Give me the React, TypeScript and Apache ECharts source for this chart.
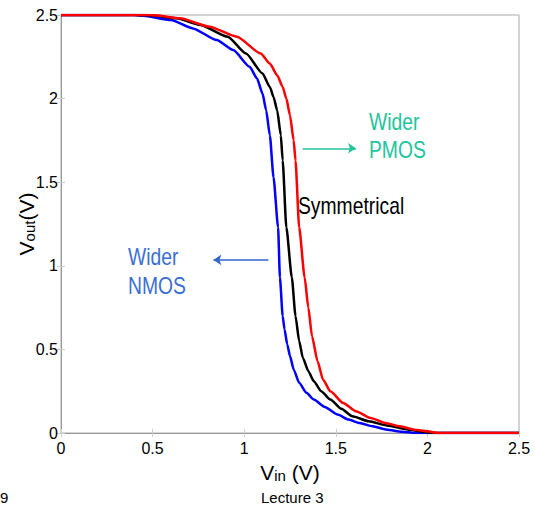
import React, { useEffect, useRef } from "react";
import * as echarts from "echarts";

// Vin (V) / Vout (V)
const vinNmos = [0, 0.4, 0.45, 0.6, 0.72, 0.85, 0.94, 1.03, 1.07, 1.1, 1.12, 1.14, 1.16, 1.185, 1.195, 1.21, 1.22, 1.235, 1.25, 1.27, 1.3, 1.34, 1.38, 1.44, 1.51, 1.57, 1.63, 1.7, 1.78, 1.86, 1.93, 2.5];
const voutNmos = [2.5, 2.5, 2.495, 2.47, 2.42, 2.35, 2.29, 2.19, 2.12, 2.03, 1.93, 1.78, 1.53, 1.23, 0.93, 0.7, 0.62, 0.53, 0.46, 0.38, 0.3, 0.24, 0.2, 0.155, 0.11, 0.08, 0.06, 0.04, 0.02, 0.008, 0, 0];

const vinSym = [0, 0.45, 0.5, 0.63, 0.76, 0.91, 1.01, 1.1, 1.14, 1.16, 1.18, 1.2, 1.21, 1.23, 1.26, 1.28, 1.3, 1.32, 1.35, 1.38, 1.42, 1.47, 1.53, 1.59, 1.68, 1.78, 1.9, 2.0, 2.05, 2.5];
const voutSym = [2.5, 2.5, 2.497, 2.48, 2.44, 2.37, 2.27, 2.15, 2.07, 2.01, 1.93, 1.78, 1.63, 1.23, 0.93, 0.7, 0.55, 0.45, 0.37, 0.31, 0.25, 0.2, 0.145, 0.1, 0.07, 0.045, 0.02, 0.003, 0, 0];

const vinPmos = [0, 0.48, 0.52, 0.65, 0.81, 0.96, 1.09, 1.14, 1.18, 1.21, 1.23, 1.25, 1.27, 1.28, 1.3, 1.33, 1.35, 1.37, 1.4, 1.43, 1.47, 1.54, 1.61, 1.69, 1.77, 1.85, 1.93, 2.0, 2.06, 2.5];
const voutPmos = [2.5, 2.5, 2.497, 2.48, 2.43, 2.37, 2.27, 2.21, 2.14, 2.07, 2.0, 1.9, 1.75, 1.63, 1.23, 0.93, 0.75, 0.58, 0.43, 0.32, 0.25, 0.18, 0.13, 0.09, 0.06, 0.04, 0.02, 0.01, 0, 0];

// annotation arrows [vinStart, vinEnd, vout]
const pmosArrow = [1.319, 1.61, 1.703];
const nmosArrow = [1.132, 0.832, 1.035];

const xTicks = [0, 0.5, 1, 1.5, 2, 2.5];

const pairs = (xs: number[], ys: number[]) => xs.map((x, i) => [x, ys[i]]);

const TEAL = "#22c49c";
const BLUETXT = "#3b6fd4";
const SANS = "'Liberation Sans', Arial, sans-serif";
const NARROW_SCALE = 0.84;

export default function App() {
  const ref = useRef<HTMLDivElement>(null);
  useEffect(() => {
    if (!ref.current) return;
    const chart = echarts.init(ref.current, undefined, { renderer: "svg" });
    const axisCommon = {
      type: "value" as const,
      min: 0,
      max: 2.5,
      interval: 0.5,
      splitLine: { show: false },
      axisLine: { show: true, lineStyle: { color: "#999", width: 1 } },
      axisTick: { show: true, inside: true, length: 4, lineStyle: { color: "#ccc" } },
    };
    const titleRich = {
      a: { fontSize: 21, fontFamily: SANS, color: "#000", lineHeight: 22 },
      b: { fontSize: 15, fontFamily: SANS, color: "#000", lineHeight: 4, verticalAlign: "bottom" as const },
    };
    const curve = (name: string, xs: number[], ys: number[], color: string) => ({
      type: "line" as const,
      name,
      data: pairs(xs, ys),
      showSymbol: false,
      smooth: 0.2,
      smoothMonotone: "x" as const,
      lineStyle: { color, width: 2.5 },
    });
    chart.setOption({
      animation: false,
      backgroundColor: "#fff",
      grid: { left: 61, right: 16, top: 15, bottom: 79, show: false, outerBoundsMode: "none", containLabel: false },
      xAxis: [
        {
          ...axisCommon,
          position: "bottom",
          axisLabel: {
            color: "#000",
            fontSize: 16,
            fontFamily: SANS,
            margin: 7,
            formatter: (v: number) => (xTicks.includes(v) ? String(v) : ""),
          },
          name: "{a|V}{b|in}{a| (V)}",
          nameLocation: "middle",
          nameGap: 28,
          nameTextStyle: { rich: titleRich },
        },
        { ...axisCommon, position: "top", axisLabel: { show: false } },
      ],
      yAxis: [
        {
          ...axisCommon,
          position: "left",
          axisLine: { show: true, lineStyle: { color: "#888", width: 1 } },
          axisLabel: { color: "#000", fontSize: 16, fontFamily: SANS, margin: 3 },
          name: "{a|V}{b|out}{a|(V)}",
          nameLocation: "middle",
          nameRotate: 90,
          nameGap: 24,
          nameMoveOverlap: false,
          nameTextStyle: { rich: titleRich },
        },
        { ...axisCommon, position: "right", axisLabel: { show: false } },
      ],
      series: [
        {
          ...curve("Wider NMOS", vinNmos, voutNmos, "#0000ff"),
          markLine: {
            silent: true,
            symbol: ["none", "arrow"],
            symbolSize: 8,
            label: { show: false },
            lineStyle: { type: "solid", width: 1.5 },
            data: [
              [
                { coord: [pmosArrow[0], pmosArrow[2]], lineStyle: { color: TEAL, type: "solid", width: 1.5 } },
                { coord: [pmosArrow[1], pmosArrow[2]] },
              ],
              [
                { coord: [nmosArrow[0], nmosArrow[2]], lineStyle: { color: "#3366cc", type: "solid", width: 1.5 } },
                { coord: [nmosArrow[1], nmosArrow[2]] },
              ],
            ],
          },
        },
        curve("Symmetrical", vinSym, voutSym, "#000000"),
        curve("Wider PMOS", vinPmos, voutPmos, "#ff0000"),
      ],
      graphic: [
        {
          type: "text",
          x: 369,
          y: 108,
          scaleX: NARROW_SCALE,
          style: { text: "Wider\nPMOS", fill: TEAL, font: `23px ${SANS}`, lineHeight: 28 },
        },
        {
          type: "text",
          x: 128,
          y: 242,
          scaleX: NARROW_SCALE,
          style: { text: "Wider\nNMOS", fill: BLUETXT, font: `23px ${SANS}`, lineHeight: 29 },
        },
        {
          type: "text",
          x: 298,
          y: 194,
          scaleX: NARROW_SCALE,
          style: { text: "Symmetrical", fill: "#000", font: `23px ${SANS}` },
        },
        {
          type: "text",
          left: 0,
          top: 490,
          style: { text: "9", fill: "#000", font: `15px ${SANS}` },
        },
        {
          type: "text",
          left: 261,
          top: 490,
          style: { text: "Lecture 3", fill: "#000", font: `15px ${SANS}` },
        },
        {
          type: "rect",
          shape: { x: 61, y: 15, width: 458, height: 418 },
          style: { fill: "none", stroke: "#aaa", lineWidth: 1 },
          silent: true,
          z: -1,
        },
      ],
    });
    return () => chart.dispose();
  }, []);
  return <div ref={ref} style={{ position: "fixed", left: 0, top: 0, width: 535, height: 512 }} />;
}
